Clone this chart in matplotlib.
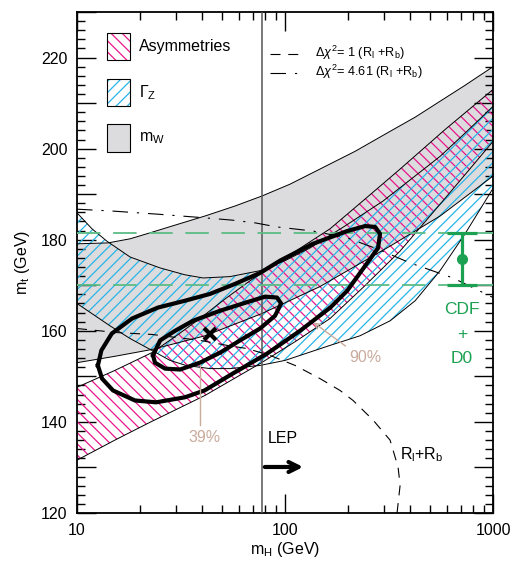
import matplotlib
matplotlib.use("Agg")
import matplotlib.pyplot as plt
from matplotlib.patches import Rectangle
from matplotlib.lines import Line2D
from matplotlib.ticker import FixedLocator, MultipleLocator, LogLocator, NullFormatter, FuncFormatter

plt.rcParams['font.family'] = ['Liberation Sans', 'DejaVu Sans']
plt.rcParams['mathtext.fontset'] = 'custom'
plt.rcParams['mathtext.rm'] = 'Liberation Sans'
plt.rcParams['mathtext.it'] = 'Liberation Sans:italic'
plt.rcParams['hatch.linewidth'] = 0.9

# m_W band (grey)
mw_hi_mh = [10, 14.1, 18.0, 22.4, 29.6, 41.2, 57.5, 77.5, 105.7, 147, 217, 320, 422, 556, 733, 1000]
mw_hi_mt = [179.1, 179.3, 180.2, 181.5, 183.2, 185.2, 187.4, 189.6, 192.2, 195.5, 199.4, 203.8, 206.9,
            210.4, 213.9, 218.0]
mw_lo_mh = [10, 15.2, 22.9, 41.2, 77.5, 147, 320, 556, 1000]
mw_lo_mt = [153.0, 154.4, 155.9, 158.9, 163.8, 169.7, 178.6, 185.2, 194.0]

# Gamma_Z band (cyan hatch)
gz_hi_mh = [10, 11.8, 13.9, 18.0, 25.1, 33.0, 40.4, 54.4, 75.8, 100, 132, 194, 296, 422, 556, 733, 1000]
gz_hi_mt = [185.9, 182.4, 179.7, 176.2, 173.8, 172.3, 171.6, 171.9, 173.2, 175.4, 178.2, 183.0, 188.5,
            194.0, 198.3, 203.4, 209.3]
gz_lo_mh = [10, 14.4, 18.0, 22.9, 28.0, 33.4, 43.6, 54.4, 75.8, 100, 164.6, 229, 320, 422, 556, 733, 1000]
gz_lo_mt = [166.0, 161.1, 158.3, 155.7, 153.5, 152.4, 151.7, 151.7, 152.4, 153.5, 156.8, 158.9, 162.2,
            166.6, 173.2, 181.3, 191.3]

# Asymmetries band (pink hatch)
asy_hi_mh = [10, 15.2, 22.9, 29.6, 39.0, 51.5, 67.9, 105.7, 164.6, 242, 357, 588, 1000]
asy_hi_mt = [147.6, 151.3, 155.2, 158.7, 162.7, 167.0, 171.0, 176.7, 182.4, 188.9, 195.5, 204.2, 213.0]
asy_lo_mh = [10, 15.2, 22.4, 41.2, 75.8, 111.7, 164.6, 242, 357, 588, 1000]
asy_lo_mt = [131.6, 136.0, 139.9, 145.8, 152.8, 157.6, 162.7, 169.9, 177.5, 189.1, 201.6]

# fit contours
c90_mh = [12.6, 13.1, 14.7, 18.4, 24.5, 33.0, 43.6, 57.5, 75.8, 94.6, 136, 199, 243, 271,
          286, 280, 243, 199, 165, 118, 82, 56, 41, 33, 24, 19, 14.9, 13.2, 12.6]
c90_mt = [152.4, 155.7, 159.4, 162.7, 165.1, 166.6, 168.1, 170.3, 172.7, 175.4, 179.1, 181.9, 183.0, 182.8,
          181.3, 178.2, 174.3, 168.8, 165.1, 160.0, 155.0, 150.6, 146.9, 145.4, 144.3, 144.7, 146.9, 149.5, 152.4]
c39_mh = [23.2, 25.1, 29.6, 36.1, 48.7, 62.8, 80.2, 91.5, 95.7, 89.5, 75.8, 60.8, 48.7, 39.0,
          31.3, 26.5, 23.7, 23.2]
c39_mt = [154.6, 157.9, 160.0, 162.2, 164.4, 166.0, 167.5, 167.3, 166.0, 163.3, 160.5, 157.9, 155.2, 153.0,
          151.5, 151.7, 153.0, 154.6]
best_mh, best_mt = 43.6, 159.4

# R_l + R_b contours
chi1_mh = [10, 15.7, 22.9, 39.0, 52.6, 65.7, 84.7, 111.7, 147.3, 183.8, 212.3, 264.9, 319.7, 349.2, 357.3, 345.4]
chi1_mt = [160.5, 159.6, 159.2, 157.9, 156.8, 156.1, 154.6, 152.4, 149.5, 146.9, 144.7, 140.4, 136.0, 130.1, 126.1, 120.0]
chi4_mh = [10, 14.7, 24.5, 41.2, 55.6, 71.7, 91.5, 136.3, 198.7, 276.9, 399, 642, 1000]
chi4_mt = [186.7, 186.3, 185.6, 184.8, 184.3, 183.7, 182.8, 181.9, 180.4, 178.0, 174.9, 171.6, 167.3]

# direct measurement
cdf_mh = 709
cdf_mt = 175.8
cdf_err = 5.7
lep_limit = 77.5

pink = '#e8178c'
cyan = '#27b5e8'
grey = '#dcdcde'
green = '#1ca152'
tan = '#c9ab9c'

fig = plt.figure(figsize=(5.15, 5.62), dpi=100)
ax = fig.add_axes([0.1495, 0.0872, 0.808, 0.8915])
ax.set_xscale('log')
ax.set_xlim(10, 1000)
ax.set_ylim(120, 230)

# bands
ax.fill(mw_hi_mh + mw_lo_mh[::-1], mw_hi_mt + mw_lo_mt[::-1], facecolor=grey, edgecolor='none', zorder=1)
ax.fill(asy_hi_mh + asy_lo_mh[::-1], asy_hi_mt + asy_lo_mt[::-1], facecolor='none', edgecolor=pink,
        hatch='\\\\\\', linewidth=0, zorder=2)
ax.fill(gz_hi_mh + gz_lo_mh[::-1], gz_hi_mt + gz_lo_mt[::-1], facecolor='none', edgecolor=cyan,
        hatch='///', linewidth=0, zorder=2)
for xs, ys in [(mw_hi_mh, mw_hi_mt), (mw_lo_mh, mw_lo_mt), (gz_hi_mh, gz_hi_mt), (gz_lo_mh, gz_lo_mt),
               (asy_hi_mh, asy_hi_mt), (asy_lo_mh, asy_lo_mt)]:
    ax.plot(xs, ys, color='k', lw=0.7, zorder=3)

# R_l + R_b
ax.plot(chi1_mh, chi1_mt, color='k', lw=0.8, dashes=(9, 7), zorder=4)
ax.plot(chi4_mh, chi4_mt, color='k', lw=0.8, dashes=(14, 8, 2, 8), zorder=4)

# LEP limit
ax.axvline(lep_limit, color='#555555', lw=1.1, zorder=3)
ax.annotate('', xy=(126, 130.1), xytext=(lep_limit, 130.1),
            arrowprops=dict(arrowstyle='->', lw=3, color='k', mutation_scale=18), zorder=6)
ax.text(82.8, 136.4, 'LEP', fontsize=11.5, va='center', ha='left', zorder=6)

# CDF + D0
for y in [cdf_mt + cdf_err, cdf_mt - cdf_err]:
    ax.axhline(y, color='#5cbb85', lw=1.3, dashes=(13, 7), zorder=4)
ax.errorbar([cdf_mh], [cdf_mt], yerr=[[cdf_err], [cdf_err]], fmt='o', color=green, ms=7,
            elinewidth=2.3, capsize=11, capthick=2.3, zorder=6)
ax.text(cdf_mh, 164.7, 'CDF', color=green, fontsize=12.5, ha='center', va='center')
ax.text(cdf_mh, 159.2, '+', color=green, fontsize=12.5, ha='center', va='center')
ax.text(cdf_mh, 154.0, 'D0', color=green, fontsize=12.5, ha='center', va='center')

# contours
ax.plot(c90_mh, c90_mt, color='k', lw=3, solid_joinstyle='round', zorder=5)
ax.plot(c39_mh, c39_mt, color='k', lw=3, solid_joinstyle='round', zorder=5)
ax.plot([best_mh], [best_mt], marker='x', color='k', ms=8, mew=3, zorder=6)

ax.plot([39.0, 39.0], [152.6, 139.3], color=tan, lw=1.0, zorder=6)
ax.text(41.2, 136.6, '39%', color=tan, fontsize=11.5, ha='center', va='center')
ax.annotate('', xy=(133.5, 162.2), xytext=(200, 156.3),
            arrowprops=dict(arrowstyle='->', color=tan, lw=1.0), zorder=6)
ax.text(242, 154.1, '90%', color=tan, fontsize=11.5, ha='center', va='center')

ax.text(356, 132.7, r'R$_\mathregular{l}$+R$_\mathregular{b}$', fontsize=11.5, ha='left', va='center')

# legend (upper left)
boxes = [(0.904, pink, '\\\\\\', 'Asymmetries'), (0.812, cyan, '///', r'$\Gamma_\mathregular{Z}$'),
         (0.7206, grey, None, r'm$_\mathregular{W}$')]
for y0, col, hat, lab in boxes:
    if hat:
        ax.add_patch(Rectangle((0.072, y0), 0.055, 0.055, transform=ax.transAxes, facecolor='white',
                               edgecolor=col, hatch=hat, lw=0, zorder=6))
        ax.add_patch(Rectangle((0.072, y0), 0.055, 0.055, transform=ax.transAxes, fill=False,
                               edgecolor='k', lw=0.8, zorder=7))
    else:
        ax.add_patch(Rectangle((0.072, y0), 0.055, 0.055, transform=ax.transAxes, facecolor=col,
                               edgecolor='k', lw=0.8, zorder=7))
    ax.text(0.149, y0 + 0.027, lab, transform=ax.transAxes, fontsize=11.5, va='center', ha='left')

# legend (upper right)
ax.add_line(Line2D([0.464, 0.548], [0.916, 0.916], transform=ax.transAxes, color='k', lw=0.8, dashes=(9, 7)))
ax.add_line(Line2D([0.464, 0.548], [0.878, 0.878], transform=ax.transAxes, color='k', lw=0.8,
                   dashes=(14, 8, 2, 8)))
ax.text(0.572, 0.918, r'$\Delta\chi^2$= 1 (R$_\mathregular{l}$ +R$_\mathregular{b}$)', transform=ax.transAxes,
        fontsize=9.2, va='center', ha='left')
ax.text(0.572, 0.880, r'$\Delta\chi^2$= 4.61 (R$_\mathregular{l}$ +R$_\mathregular{b}$)', transform=ax.transAxes,
        fontsize=9.2, va='center', ha='left')

# axes and ticks
ax.xaxis.set_major_locator(FixedLocator([10, 100, 1000]))
ax.xaxis.set_major_formatter(FuncFormatter(lambda v, p: '%g' % v))
ax.xaxis.set_minor_locator(LogLocator(base=10, subs=range(2, 10)))
ax.xaxis.set_minor_formatter(NullFormatter())
ax.yaxis.set_major_locator(MultipleLocator(10))
ax.yaxis.set_major_formatter(FuncFormatter(lambda v, p: '%d' % v if round(v) % 20 == 0 else ''))
ax.yaxis.set_minor_locator(MultipleLocator(2))
ax.tick_params(which='both', direction='in', top=True, right=True, width=1, labelsize=11.5)
ax.tick_params(which='major', length=14, pad=7)
ax.tick_params(which='minor', length=6)
for s in ax.spines.values():
    s.set_linewidth(1.3)

ax.set_xlabel(r'm$_\mathregular{H}$ (GeV)', fontsize=11.5, labelpad=2)
ax.set_ylabel(r'm$_\mathregular{t}$ (GeV)', fontsize=11.5, labelpad=6)

plt.savefig('out.png', dpi=100)
